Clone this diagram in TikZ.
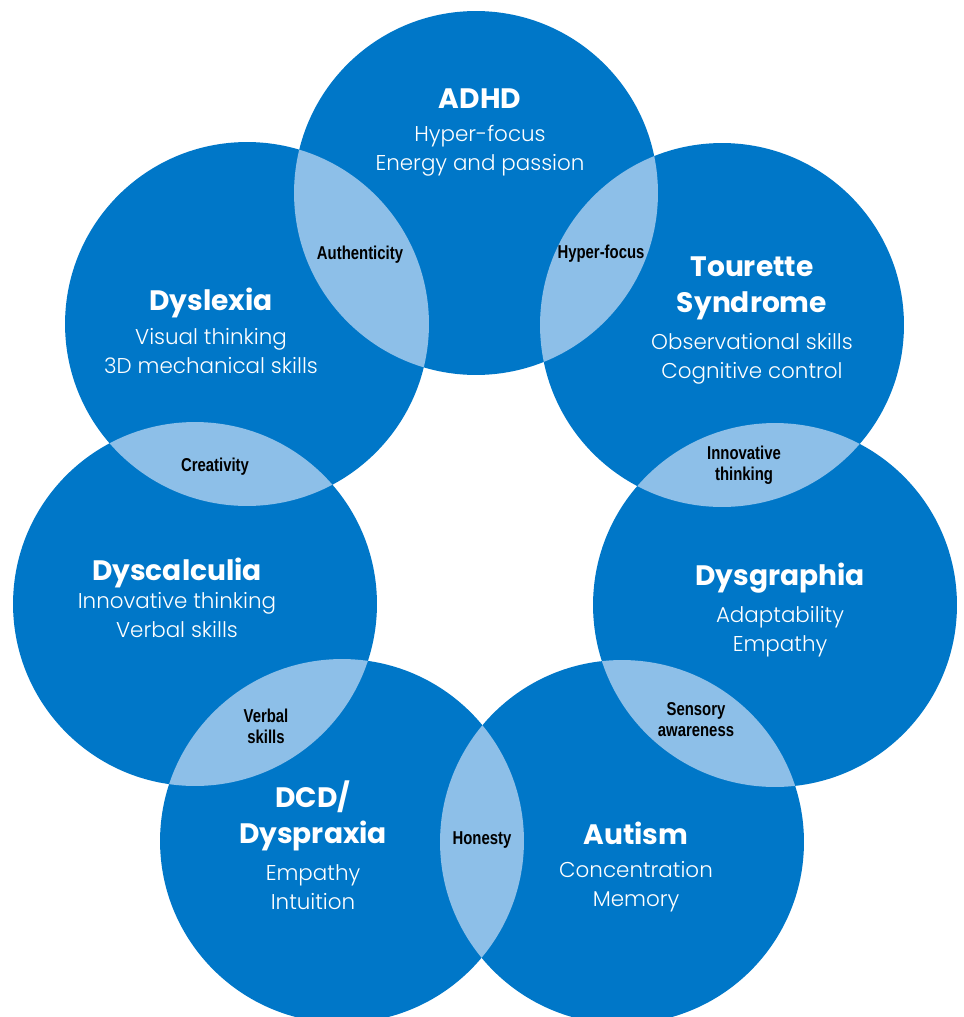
\documentclass[tikz,border=0pt]{standalone}
\usepackage{fontspec}
\setmainfont{Poppins}[UprightFont=* Light, BoldFont=* Bold]
\newfontfamily\lensfont{Liberation Sans}[FakeStretch=0.8]
\usepackage{tikz}
\definecolor{ringblue}{RGB}{0,119,200}
\definecolor{lensblue}{RGB}{141,191,232}

\begin{document}
\begin{tikzpicture}[x=0.02cm, y=-0.02cm,
    disc/.style={circle, fill=ringblue, inner sep=0pt, minimum size=7.28cm},
    title/.style={text=white, font=\fontsize{16}{20}\selectfont\bfseries, align=center, anchor=base},
    skills/.style={text=white, font=\fontsize{12.2}{16}\selectfont, align=center, anchor=base},
    shared/.style={text=black, font=\lensfont\fontsize{10.6}{11.7}\selectfont\bfseries, align=center, anchor=base}]
  \useasboundingbox (0,0) rectangle (963,1017);

  \node[disc] (adhd) at (476,193) {};
  \node[disc] (dyslexia) at (247,324) {};
  \node[disc] (tourette) at (722,325) {};
  \node[disc] (dyscalculia) at (195,604) {};
  \node[disc] (dysgraphia) at (775,605) {};
  \node[disc] (dcd) at (342,841) {};
  \node[disc] (autism) at (622,842) {};

  % overlaps of neighbouring circles
  \foreach \a/\b in {adhd/dyslexia, adhd/tourette, tourette/dysgraphia, dysgraphia/autism,
                     autism/dcd, dcd/dyscalculia, dyscalculia/dyslexia}{
    \begin{scope}
      \clip (\a.center) circle (3.64cm);
      \fill[lensblue] (\b.center) circle (3.64cm);
    \end{scope}
  }

  % base of a node = baseline of its last line
  \node[title] (adhd-t) at (480,109) {ADHD};
  \node[skills] (adhd-s) at (480,170) {Hyper-focus\\Energy and passion};
  \node[title] (dyslexia-t) at (211,310) {Dyslexia};
  \node[skills] (dyslexia-s) at (211,373) {Visual thinking\\3D mechanical skills};
  \node[title] (tourette-t) at (752,312) {Tourette\\Syndrome};
  \node[skills] (tourette-s) at (752,378) {Observational skills\\Cognitive control};
  \node[title] (dyscalculia-t) at (177,580) {Dyscalculia};
  \node[skills] (dyscalculia-s) at (177,637) {Innovative thinking\\Verbal skills};
  \node[title] (dysgraphia-t) at (780,585) {Dysgraphia};
  \node[skills] (dysgraphia-s) at (780,651) {Adaptability\\Empathy};
  \node[title] (dcd-t) at (313,843) {DCD/\\Dyspraxia};
  \node[skills] (dcd-s) at (313,909) {Empathy\\Intuition};
  \node[title] (autism-t) at (636,844) {Autism};
  \node[skills] (autism-s) at (636,906) {Concentration\\Memory};

  \node[shared] (auth) at (360,259) {Authenticity};
  \node[shared] (hyper) at (601,258) {Hyper-focus};
  \node[shared] (creat) at (215,471) {Creativity};
  \node[shared] (innov) at (744,480) {Innovative\\thinking};
  \node[shared] (verbal) at (266,743) {Verbal\\skills};
  \node[shared] (sensory) at (696,736) {Sensory\\awareness};
  \node[shared] (honesty) at (482,844) {Honesty};
\end{tikzpicture}
\end{document}
